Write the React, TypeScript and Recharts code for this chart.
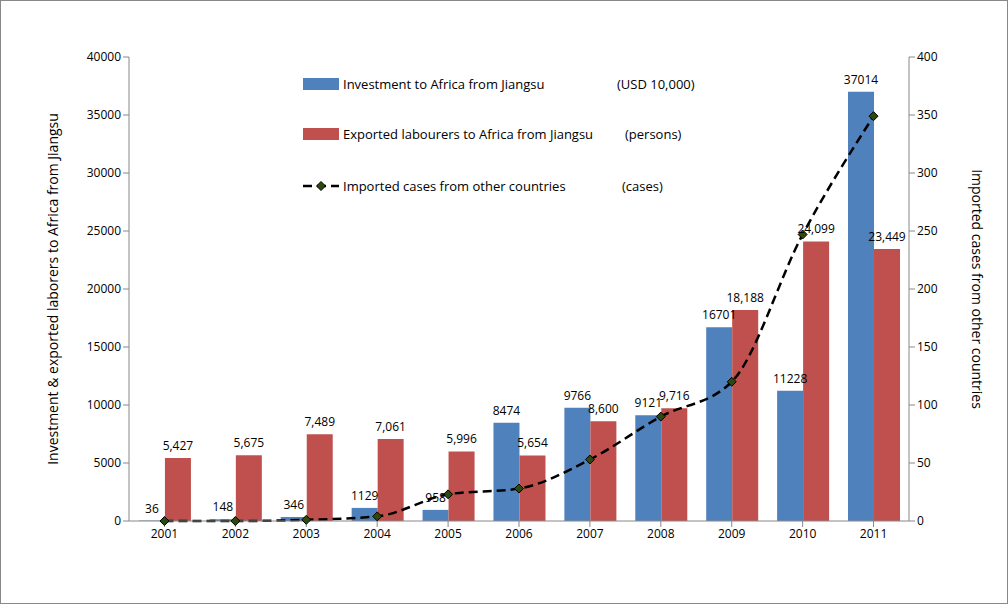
import React from 'react';
import { ComposedChart, Bar, Line, XAxis, YAxis, LabelList } from 'recharts';

const years = ['2001', '2002', '2003', '2004', '2005', '2006', '2007', '2008', '2009', '2010', '2011'];
const investment = [36, 148, 346, 1129, 958, 8474, 9766, 9121, 16701, 11228, 37014];
const labourers = [5427, 5675, 7489, 7061, 5996, 5654, 8600, 9716, 18188, 24099, 23449];
const importedCases = [0, 0, 1, 4, 23, 28, 53, 90, 120, 247, 349];

const data = years.map((year, i) => ({
  year,
  investment: investment[i],
  labourers: labourers[i],
  cases: importedCases[i],
}));

const font = '"Open Sans", "Liberation Sans", sans-serif';
const tick = { fontSize: 12, fill: '#000', fontFamily: font };

const Diamond = (props: any) => {
  const { cx, cy } = props;
  if (cx == null || cy == null) return null;
  return <path d={`M${cx},${cy - 4.5}L${cx + 4.5},${cy}L${cx},${cy + 4.5}L${cx - 4.5},${cy}Z`} fill="#2d4a0e" stroke="#000" strokeWidth={1} />;
};

const legendRow = (top: number, swatch: React.ReactNode, text: string, unit: string, unitLeft: number) => (
  <>
    <div style={{ position: 'absolute', top, left: 302, display: 'flex', alignItems: 'center', fontSize: 13, fontFamily: font }}>
      {swatch}
      <span style={{ marginLeft: 4 }}>{text}</span>
    </div>
    <div style={{ position: 'absolute', top, left: unitLeft, fontSize: 13, fontFamily: font }}>{unit}</div>
  </>
);

const App: React.FC = () => {
  return (
    <div style={{ position: 'absolute', top: 0, left: 0, width: 1006, height: 602, border: '1px solid #888', background: '#fff' }}>
      <ComposedChart
        width={1006}
        height={602}
        data={data}
        margin={{ top: 56, right: 58, left: 60, bottom: 52 }}
        barCategoryGap="14%"
        barGap={0}
      >
        <XAxis dataKey="year" tick={tick} stroke="#888" tickLine={{ stroke: '#888' }} height={30} />
        <YAxis
          yAxisId="left"
          width={68}
          domain={[0, 40000]}
          ticks={[0, 5000, 10000, 15000, 20000, 25000, 30000, 35000, 40000]}
          tick={tick}
          stroke="#888"
          label={{ value: 'Investment & exported laborers to Africa from Jiangsu', angle: -90, position: 'insideLeft', offset: -8, style: { fontSize: 14, fontFamily: font, fill: '#000', textAnchor: 'middle' } }}
        />
        <YAxis
          yAxisId="right"
          orientation="right"
          width={40}
          domain={[0, 400]}
          ticks={[0, 50, 100, 150, 200, 250, 300, 350, 400]}
          tick={tick}
          stroke="#888"
          label={{ value: 'Imported cases from other countries', angle: 90, position: 'insideRight', offset: -28, style: { fontSize: 14, fontFamily: font, fill: '#000', textAnchor: 'middle' } }}
        />
        <Bar yAxisId="left" dataKey="investment" fill="#4f81bd" isAnimationActive={false}>
          <LabelList dataKey="investment" position="top" offset={8} style={{ fontSize: 12, fontFamily: font, fill: '#000' }} />
        </Bar>
        <Bar yAxisId="left" dataKey="labourers" fill="#c0504d" isAnimationActive={false}>
          <LabelList dataKey="labourers" position="top" offset={8} formatter={(v: any) => Number(v).toLocaleString('en-US')} style={{ fontSize: 12, fontFamily: font, fill: '#000' }} />
        </Bar>
        <Line yAxisId="right" dataKey="cases" type="monotone" stroke="#000" strokeWidth={2.5} strokeDasharray="9 5" dot={<Diamond />} isAnimationActive={false} />
      </ComposedChart>
      {legendRow(74, <div style={{ width: 36, height: 12, background: '#4f81bd' }} />, 'Investment to Africa from Jiangsu', '(USD 10,000)', 616)}
      {legendRow(124, <div style={{ width: 36, height: 12, background: '#c0504d' }} />, 'Exported labourers to Africa from Jiangsu', '(persons)', 624)}
      {legendRow(176,
        <svg width={36} height={12}><line x1={0} y1={6} x2={36} y2={6} stroke="#000" strokeWidth={2.5} strokeDasharray="9 5" /><path d="M18,1.5L22.5,6L18,10.5L13.5,6Z" fill="#2d4a0e" stroke="#000" /></svg>,
        'Imported cases from other countries', '(cases)', 621)}
    </div>
  );
};

export default App;
